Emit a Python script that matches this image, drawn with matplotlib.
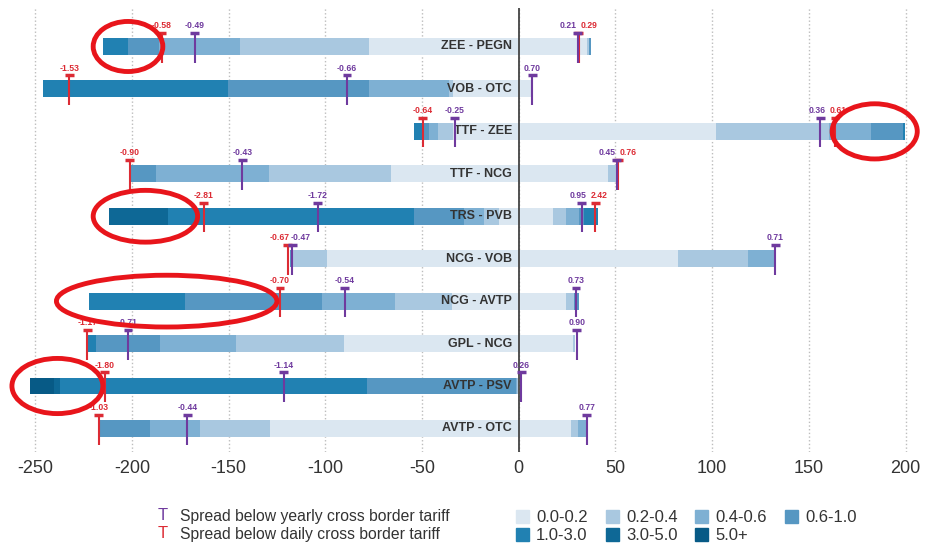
import numpy as np
import matplotlib
matplotlib.use('Agg')
from matplotlib import pyplot as plt
from matplotlib.patches import Ellipse, Rectangle

plt.rcParams['font.family'] = ['Liberation Sans', 'DejaVu Sans']
plt.rcParams['axes.unicode_minus'] = False

# -- dados (linhas de cima para baixo) --
rotas = ['ZEE - PEGN', 'VOB - OTC', 'TTF - ZEE', 'TTF - NCG', 'TRS - PVB',
         'NCG - VOB', 'NCG - AVTP', 'GPL - NCG', 'AVTP - PSV', 'AVTP - OTC']
faixas = ['0.0-0.2', '0.2-0.4', '0.4-0.6', '0.6-1.0', '1.0-3.0', '3.0-5.0', '5.0+']
cores = ['#dbe7f1', '#a9c8e0', '#7eb0d3', '#5697c2', '#2181b2', '#0e6896', '#075a86']

# fim acumulado de cada faixa (lado negativo, em modulo)
neg_fim = [
    [77.6, 144.3, 186.0, 202.0, 215.0, 215.0, 215.0],
    [34.0, 36.3, 77.6, 150.3, 245.8, 245.8, 245.8],
    [34.1, 41.9, 46.2, 49.6, 54.3, 54.3, 54.3],
    [65.8, 129.1, 187.4, 201.2, 201.2, 201.2, 201.2],
    [10.0, 18.2, 28.5, 54.4, 181.5, 211.6, 211.6],
    [99.3, 116.6, 117.5, 118.4, 118.4, 118.4, 118.4],
    [34.7, 64.0, 101.9, 172.6, 222.2, 222.2, 222.2],
    [90.4, 146.0, 185.7, 218.4, 222.7, 222.7, 222.7],
    [0.5, 1.0, 1.4, 78.7, 237.4, 240.0, 252.6],
    [128.8, 165.0, 190.8, 216.7, 216.7, 216.7, 216.7],
]
# fim acumulado de cada faixa (lado positivo)
pos_fim = [
    [35.5, 36.3, 36.3, 37.6, 37.6, 37.6, 37.6],
    [6.4, 6.4, 6.4, 6.4, 6.4, 6.4, 6.4],
    [102.0, 160.5, 182.0, 198.8, 199.6, 199.6, 199.6],
    [46.0, 50.6, 50.6, 50.6, 50.6, 50.6, 50.6],
    [17.9, 24.4, 31.0, 33.5, 40.8, 40.8, 40.8],
    [82.2, 118.4, 132.2, 132.2, 132.2, 132.2, 132.2],
    [24.4, 28.7, 28.7, 30.9, 30.9, 30.9, 30.9],
    [27.9, 29.3, 29.3, 29.3, 29.3, 29.3, 29.3],
    [0.0, 0.0, 0.0, 0.0, 0.0, 0.0, 0.0],
    [27.2, 30.4, 35.1, 35.1, 35.1, 35.1, 35.1],
]

# marcadores: tarifa anual (roxo) e diaria (vermelho)
anual_neg_x = [-167.4, -88.8, -33.2, -143.0, -103.9, -117.0, -90.0, -202.0, -121.4, -171.4]
anual_neg_txt = ['-0.49', '-0.66', '-0.25', '-0.43', '-1.72', '-0.47', '-0.54', '-0.71', '-1.14', '-0.44']
anual_pos_x = [30.4, 6.9, 155.8, 50.6, 32.6, 132.6, 29.6, 30.0, 1.2, 35.1]
anual_pos_txt = ['0.21', '0.70', '0.36', '0.45', '0.95', '0.71', '0.73', '0.90', '0.26', '0.77']
diaria_neg_x = [-184.6, -232.4, -49.6, -201.2, -162.8, -119.5, -123.4, -223.0, -214.0, -217.2]
diaria_neg_txt = ['-0.58', '-1.53', '-0.64', '-0.90', '-2.81', '-0.67', '-0.70', '-1.17', '-1.80', '-1.03']
diaria_pos_x = [31.0, None, 163.5, 51.4, 39.6, None, None, None, None, None]
diaria_pos_txt = ['0.29', None, '0.61', '0.76', '2.42', None, None, None, None, None]

# elipses vermelhas de destaque (centro x, linha, largura, altura)
elipse_x = [-202.0, 184.0, -193.0, -182.0, -238.5]
elipse_linha = [0, 2, 4, 6, 8]
elipse_larg = [36.0, 44.0, 54.0, 114.0, 47.0]
elipse_alt = [1.18, 1.30, 1.22, 1.22, 1.30]

roxo = '#6f3a9e'
vermelho = '#dc2b34'

fig = plt.figure(figsize=(9.28, 5.46), dpi=100)
ax = fig.add_axes([10/928, 94/546, 915/928, 444/546])
px_por_unid = 915 / 473

y = -np.arange(len(rotas))
neg = np.array(neg_fim)
pos = np.array(pos_fim)
altura = 0.40

for b in range(len(faixas)):
    ini_n = neg[:, b-1] if b > 0 else np.zeros(len(rotas))
    ini_p = pos[:, b-1] if b > 0 else np.zeros(len(rotas))
    ax.barh(y, -(neg[:, b] - ini_n), left=-ini_n, height=altura, color=cores[b], linewidth=0, zorder=2)
    ax.barh(y, pos[:, b] - ini_p, left=ini_p, height=altura, color=cores[b], linewidth=0, zorder=2)

ax.axvline(0, color='#444444', lw=1.3, zorder=3)

for i, nome in enumerate(rotas):
    ax.text(-3.5, y[i], nome, ha='right', va='center', fontsize=9, fontweight='bold',
            color='#333333', zorder=4)


def marcador(xv, yv, txt, cor, desloc):
    topo = yv + 0.32
    ax.plot([xv, xv], [topo, yv - 0.38], color=cor, lw=1.5, zorder=5, solid_capstyle='butt')
    ax.plot([xv - 2.3, xv + 2.3], [topo, topo], color=cor, lw=2.5, zorder=5, solid_capstyle='butt')
    ax.annotate(txt, (xv, topo), xytext=(desloc, 2), textcoords='offset points',
                ha='center', va='bottom', fontsize=6.2, fontweight='bold', color=cor, zorder=6)


for i in range(len(rotas)):
    pares = [(anual_neg_x[i], anual_neg_txt[i], diaria_neg_x[i], diaria_neg_txt[i]),
             (anual_pos_x[i], anual_pos_txt[i], diaria_pos_x[i], diaria_pos_txt[i])]
    for xa, ta, xd, td in pares:
        da, dd = 0, 0
        # afasta os rotulos quando os dois marcadores ficam muito proximos
        if xa is not None and xd is not None:
            dist = abs(xa - xd) * px_por_unid
            if dist < 21:
                s = (21 - dist) / 2 * 0.72
                da, dd = (-s, s) if xa < xd else (s, -s)
        if xd is not None:
            marcador(xd, y[i], td, vermelho, dd)
        if xa is not None:
            marcador(xa, y[i], ta, roxo, da)

for ex, el, ew, eh in zip(elipse_x, elipse_linha, elipse_larg, elipse_alt):
    ax.add_patch(Ellipse((ex, y[el]), ew, eh, fill=False, edgecolor='#e8151b', lw=3.5,
                         zorder=7, clip_on=False))

ax.set_xlim(-263, 210)
ax.set_ylim(-9.555, 0.907)
ax.set_xticks(np.arange(-250, 201, 50))
ax.set_yticks([])
ax.tick_params(axis='x', length=0, pad=6, labelsize=13, labelcolor='#333333')
ax.grid(axis='x', linestyle=':', color='#bdbdbd', lw=1, zorder=0)
ax.set_axisbelow(True)
for s in ax.spines.values():
    s.set_visible(False)

# -- legenda --
fig.text(163/928, 1 - 516/546, 'T', color=roxo, fontsize=12, ha='center', va='center')
fig.text(180/928, 1 - 516/546, 'Spread below yearly cross border tariff', color='#333333',
         fontsize=11.3, va='center')
fig.text(163/928, 1 - 534/546, 'T', color=vermelho, fontsize=12, ha='center', va='center')
fig.text(180/928, 1 - 534/546, 'Spread below daily cross border tariff', color='#333333',
         fontsize=11.3, va='center')

leg_x = [516, 606, 695, 785]
for k, faixa in enumerate(faixas):
    lx = leg_x[k % 4]
    ly = 517 if k < 4 else 535
    fig.patches.append(Rectangle((lx/928, 1 - (ly + 6)/546), 13/928, 13/546,
                                 transform=fig.transFigure, color=cores[k], figure=fig))
    fig.text((lx + 20)/928, 1 - ly/546, faixa, color='#333333', fontsize=12, va='center')

plt.savefig('out.png', dpi=100)
